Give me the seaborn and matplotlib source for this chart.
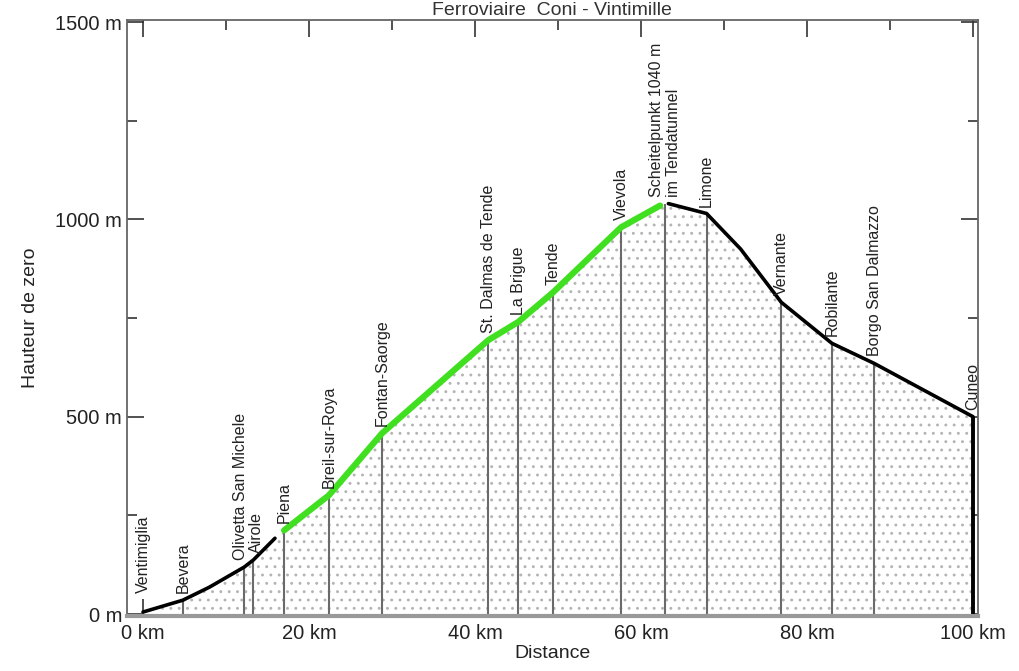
import numpy as np
import pandas as pd
import seaborn as sns
import matplotlib
matplotlib.use("Agg")
import matplotlib.pyplot as plt
from matplotlib.ticker import FuncFormatter, MultipleLocator

# stations: name, km from Ventimiglia, altitude (m)
stations = ["Ventimiglia", "Bevera", "Olivetta San Michele", "Airole", "Piena",
            "Breil-sur-Roya", "Fontan-Saorge", "St. Dalmas de Tende", "La Brigue",
            "Tende", "Vievola", "Scheitelpunkt 1040 m\nim Tendatunnel", "Limone",
            "Vernante", "Robilante", "Borgo San Dalmazzo", "Cuneo"]
station_km = [0, 4.8, 12.2, 13.3, 17.0, 22.4, 28.8, 41.6, 45.2, 49.4, 57.6,
              62.9, 67.9, 76.9, 83.0, 88.1, 100]
station_alt = [5, 35, 119, 137, 212, 301, 458, 694, 740, 815, 980,
               1040, 1015, 790, 686, 635, 500]

# profile, italian part south (black)
south_km = [0, 4.8, 8.0, 12.2, 13.3, 15.9]
south_alt = [5, 35, 68, 119, 137, 192]
# french part (green)
french_km = [17.0, 22.4, 28.8, 41.6, 45.2, 49.4, 57.6, 62.3]
french_alt = [212, 301, 458, 694, 740, 815, 980, 1035]
# italian part north (black)
north_km = [63.3, 67.9, 72.0, 76.9, 83.0, 88.1, 100]
north_alt = [1040, 1015, 925, 790, 686, 635, 500]

sns.set_style("ticks")
plt.rcParams["font.family"] = ["Liberation Sans", "DejaVu Sans"]
plt.rcParams["hatch.linewidth"] = 0.9

fig = plt.figure(figsize=(10.2, 6.71), dpi=100)
ax = fig.add_axes([0.1245, 0.082, 0.8343, 0.888])

# dotted area under the whole profile
all_km = south_km + french_km + north_km
all_alt = south_alt + french_alt + north_alt
ax.fill_between(all_km, all_alt, 0, facecolor="white", edgecolor="#b4b4b4",
                hatch="..", linewidth=0, zorder=1)

# station verticals
ax.vlines(station_km[:-1], 0, station_alt[:-1], color="#6a6a6a", lw=1.5, zorder=2)
ax.vlines(station_km[-1], 0, station_alt[-1], color="black", lw=2.8, zorder=2)

sns.lineplot(x=south_km, y=south_alt, color="black", lw=2.6, sort=False, ax=ax, zorder=3)
sns.lineplot(x=french_km, y=french_alt, color="#40e020", lw=4.5, sort=False, ax=ax, zorder=3)
sns.lineplot(x=north_km, y=north_alt, color="black", lw=2.6, sort=False, ax=ax, zorder=3)

# small sideways nudges so the close labels do not collide
nudge = {"Olivetta San Michele": -2.5, "Airole": 2.5}
lift = {"Ventimiglia": 14}
for name, k, a in zip(stations, station_km, station_alt):
    ax.annotate(name, (k, a), xytext=(nudge.get(name, 0), lift.get(name, 5)),
                textcoords="offset points", rotation=90, ha="center", va="bottom",
                fontsize=11.5, color="#222222", multialignment="left", zorder=4)

ax.set_xlim(-1.93, 100.6)
ax.set_ylim(-5, 1505)
ax.xaxis.set_major_locator(MultipleLocator(20))
ax.xaxis.set_minor_locator(MultipleLocator(10))
ax.yaxis.set_major_locator(MultipleLocator(500))
ax.yaxis.set_minor_locator(MultipleLocator(250))
ax.xaxis.set_major_formatter(FuncFormatter(lambda v, p: f"{v:g} km"))
ax.yaxis.set_major_formatter(FuncFormatter(lambda v, p: f"{v:g} m"))
ax.tick_params(which="both", direction="in", top=True, right=True,
               labelsize=14.5, colors="#333333", labelcolor="#222222")
ax.tick_params(which="major", length=12, width=1.2)
ax.tick_params(which="minor", length=7, width=1.2)
ax.tick_params(axis="x", pad=6)

for s in ax.spines.values():
    s.set_color("#666666")
    s.set_linewidth(1.3)
ax.spines["bottom"].set_color("#999999")
ax.spines["bottom"].set_linewidth(3)

ax.set_xlabel("Distance", fontsize=14, color="#222222", labelpad=1)
ax.set_ylabel("Hauteur de zero", fontsize=14, color="#222222", labelpad=12)

fig.text(0.541, 0.977, "Ferroviaire  Coni - Vintimille", ha="center", va="baseline",
         fontsize=14, color="#333333")

fig.savefig("out.png", dpi=100)
